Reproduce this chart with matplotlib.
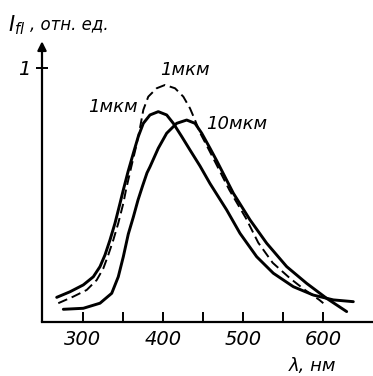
import matplotlib
matplotlib.use("Agg")
import matplotlib.pyplot as plt

# values (wavelength in nm, intensity in rel. units)
lam_1um = [267.1, 283.75, 300.4, 312.9, 321.25, 327.5, 333.75, 340, 346.25,
           350.4, 356.25, 362.9, 369.1, 375.4, 383.75, 394.1, 404.6, 412.9,
           423.4, 433.75, 446.25, 458.75, 479.6, 496.25, 517.1, 537.9, 562.9,
           587.9, 612.9, 637.9]
int_1um = [0.097, 0.119, 0.146, 0.178, 0.218, 0.264, 0.323, 0.389, 0.467,
           0.520, 0.591, 0.664, 0.730, 0.782, 0.815, 0.828, 0.815, 0.782,
           0.730, 0.677, 0.614, 0.545, 0.441, 0.349, 0.257, 0.192, 0.139,
           0.106, 0.087, 0.080]

lam_1um_dash = [269.1, 287.9, 304.6, 317.1, 325.4, 331.6, 337.9, 344.1, 350.4,
                353.75, 360, 366.25, 371.25, 375.4, 381.6, 392.1, 402.5, 415,
                425.4, 433.75, 440, 446.25, 454.6, 465, 482.9, 503.75, 519.1,
                537.1, 558.75, 577.5, 595.4, 600.4]
int_1um_dash = [0.074, 0.100, 0.126, 0.165, 0.211, 0.264, 0.323, 0.389, 0.467,
                0.520, 0.606, 0.689, 0.764, 0.835, 0.887, 0.920, 0.933, 0.920,
                0.887, 0.841, 0.795, 0.745, 0.695, 0.631, 0.520, 0.408, 0.312,
                0.233, 0.172, 0.126, 0.087, 0.074]

lam_10um = [275.4, 300.4, 321.25, 335.9, 344.1, 350.4, 356.6, 362.9, 368.75,
            374.4, 380, 383.75, 394.1, 404.6, 417.1, 429.6, 440, 448.4, 458.75,
            467.1, 487.9, 508.75, 529.6, 554.6, 579.6, 604.6, 629.6]
int_10um = [0.050, 0.054, 0.074, 0.113, 0.178, 0.257, 0.346, 0.413, 0.480,
            0.535, 0.587, 0.611, 0.684, 0.743, 0.782, 0.795, 0.782, 0.743,
            0.684, 0.635, 0.507, 0.402, 0.310, 0.218, 0.152, 0.093, 0.041]

xticks_major = [300, 400, 500, 600]
xticks_minor = [350, 450, 550]
yticks = [1]

narrow = ["Liberation Sans Narrow", "DejaVu Sans"]

fig = plt.figure(figsize=(3.73, 3.76), dpi=100)
ax = fig.add_axes([42 / 373, 54 / 376, 331 / 373, 282 / 376])

ax.plot(lam_1um, int_1um, color="black", lw=2.1, solid_capstyle="round",
        solid_joinstyle="round")
ax.plot(lam_10um, int_10um, color="black", lw=2.1, solid_capstyle="round",
        solid_joinstyle="round")
ax.plot(lam_1um_dash, int_1um_dash, color="black", lw=1.4, dashes=(5, 2.5))

ax.set_xlim(248.75, 662.5)
ax.set_ylim(0, 1.11)

for s in ["top", "right", "left"]:
    ax.spines[s].set_visible(False)
ax.spines["bottom"].set_linewidth(1.6)

# y axis with arrow
ax.annotate("", xy=(248.75, 1.105), xytext=(248.75, 0),
            xycoords="data", annotation_clip=False,
            arrowprops=dict(arrowstyle="-|>", lw=1.6, color="black",
                            mutation_scale=13, shrinkA=0, shrinkB=0))

ax.set_xticks(xticks_major)
ax.set_xticks(xticks_minor, minor=True)
ax.set_xticklabels([str(v) for v in xticks_major], fontsize=14,
                   fontstyle="italic", family=narrow)
ax.tick_params(axis="x", which="both", direction="in", length=7, width=1.4, pad=6)
ax.set_yticks(yticks)
ax.set_yticklabels(["1"], fontsize=14, fontstyle="italic", family=narrow)
ax.tick_params(axis="y", direction="inout", length=9, width=1.4, pad=4)

lab = dict(fontsize=13, fontstyle="italic", family=narrow, ha="center",
           va="center")
ax.text(427.5, 0.99, "1мкм", **lab)
ax.text(337, 0.845, "1мкм", **lab)
ax.text(492, 0.78, "10мкм", **lab)
ax.text(587, -0.173, "λ, нм", clip_on=False, **lab)

ax.text(206, 1.17, r"$I_{fl}$", fontsize=15, ha="left", va="center",
        clip_on=False)
ax.text(234, 1.17, ", отн. ед.", fontsize=12, fontstyle="italic",
        family=narrow, ha="left", va="center", clip_on=False)

fig.savefig("out.png", dpi=100)
